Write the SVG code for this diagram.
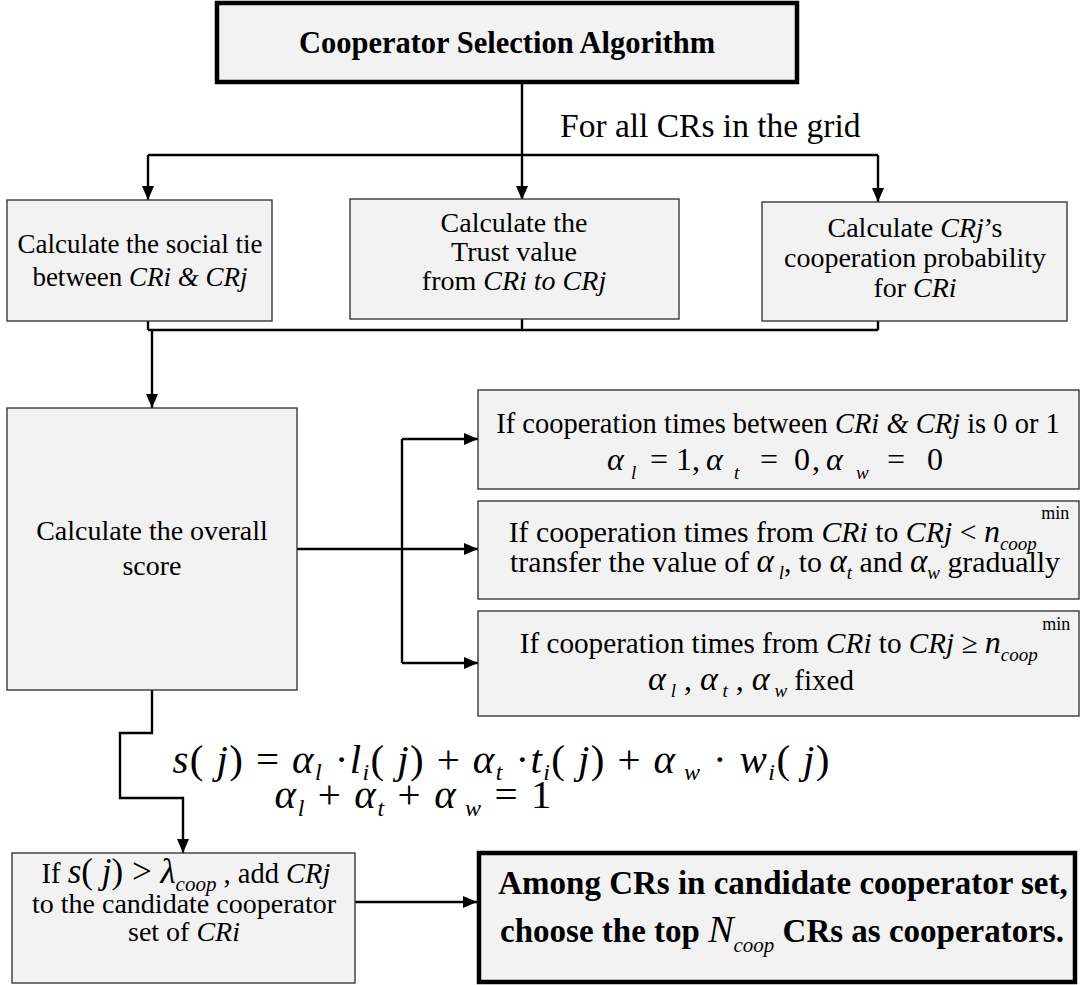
<svg xmlns="http://www.w3.org/2000/svg" width="1081" height="985" viewBox="0 0 1081 985" font-family="'Liberation Serif', 'Times New Roman', 'DejaVu Serif', serif">
<defs>
<marker id="arrow" viewBox="0 0 14 12" refX="14" refY="6" markerWidth="14" markerHeight="12" markerUnits="userSpaceOnUse" orient="auto"><path d="M0,0 L14,6 L0,12 Z" fill="#000"/></marker>
<style>
text{font-family:'Liberation Serif','Times New Roman','DejaVu Serif',serif;font-size:28px;fill:#000}
.c{text-anchor:middle}
.i{font-style:italic}
.m{font-style:italic;font-size:32px}
.mu{font-size:32px}
.s{font-style:italic;font-size:19px}
.su{font-size:18px}
.bold{font-weight:bold;font-size:33px}
.f{font-size:41px}
.fs{font-style:italic;font-size:24px}
.box{fill:#f2f2f2;stroke:#3a3a3a;stroke-width:1.4}
.heavy{fill:#f2f2f2;stroke:#000;stroke-width:4.5}
.wire{fill:none;stroke:#000;stroke-width:2.4}
.wa{fill:none;stroke:#000;stroke-width:2.4;marker-end:url(#arrow)}
</style>
</defs>
<rect width="1081" height="985" fill="#fff"/>

<!-- connectors -->
<g id="connectors">
<path class="wa" d="M522,82 V200"/>
<path class="wire" d="M148,155 H878"/>
<path class="wa" d="M148,155 V200"/>
<path class="wa" d="M878,155 V202"/>
<text x="560" y="137" style="font-size:33.5px">For all CRs in the grid</text>
<path class="wire" d="M148,321 V330 M522,319 V330 M878,321 V330 M148,330 H878"/>
<path class="wa" d="M152,330 V408"/>
<path class="wire" d="M402,439 V663"/>
<path class="wa" d="M297,549 H478"/>
<path class="wa" d="M402,439 H478"/>
<path class="wa" d="M402,663 H478"/>
<path class="wa" d="M152,690 V733 H120 V798 H183 V853"/>
<path class="wa" d="M355,902 H477"/>
</g>

<g id="title">
<rect class="heavy" x="217" y="3" width="580" height="79"/>
<text class="bold c" x="507" y="53" style="font-size:30.5px">Cooperator Selection Algorithm</text>
</g>

<g id="social-tie">
<rect class="box" x="7" y="200" width="265" height="121"/>
<text class="c" x="140" y="253" style="font-size:27px">Calculate the social tie</text>
<text class="c" x="140" y="286" style="font-size:27px">between <tspan class="i">CRi &amp; CRj</tspan></text>
</g>

<g id="trust-value">
<rect class="box" x="350" y="199" width="329" height="120"/>
<text class="c" x="514" y="232">Calculate the</text>
<text class="c" x="514" y="261">Trust value</text>
<text class="c" x="514" y="290">from <tspan class="i">CRi to CRj</tspan></text>
</g>

<g id="coop-probability">
<rect class="box" x="762" y="202" width="305" height="119"/>
<text class="c" x="915" y="237">Calculate  <tspan class="i">CRj</tspan>’s</text>
<text class="c" x="915" y="267">cooperation probability</text>
<text class="c" x="915" y="297">for <tspan class="i">CRi</tspan></text>
</g>

<g id="overall-score">
<rect class="box" x="7" y="408" width="290" height="282"/>
<text class="c" x="152" y="540">Calculate the overall</text>
<text class="c" x="152" y="575">score</text>
</g>

<g id="rule-first">
<rect class="box" x="478" y="390" width="601" height="99"/>
<text class="c" x="778" y="433" style="font-size:28.5px">If cooperation times between <tspan class="i">CRi &amp; CRj</tspan> is 0 or 1</text>
<text y="470" class="mu">
<tspan class="m" x="607">α</tspan><tspan class="s" x="631" dy="9">l</tspan><tspan x="650" dy="-9">=</tspan><tspan x="676">1</tspan><tspan x="692">,</tspan>
<tspan class="m" x="706">α</tspan><tspan class="s" x="734" dy="9">t</tspan><tspan x="760" dy="-9">=</tspan><tspan x="794">0</tspan><tspan x="812">,</tspan>
<tspan class="m" x="826">α</tspan><tspan class="s" x="856" dy="9">w</tspan><tspan x="887" dy="-9">=</tspan><tspan x="927">0</tspan>
</text>
</g>

<g id="rule-transfer">
<rect class="box" x="478" y="501" width="601" height="98"/>
<text class="c" x="789" y="542" style="font-size:29.8px">If cooperation times from <tspan class="i">CRi</tspan> to <tspan class="i">CRj</tspan> &lt;  <tspan class="m">n</tspan><tspan class="s" dy="8">coop</tspan><tspan class="su" dy="-31"> min</tspan></text>
<text class="c" x="785" y="572" style="font-size:29.8px">transfer the value of <tspan class="m" style="font-size:33px">α</tspan><tspan class="s" dy="7"> l</tspan><tspan dy="-7">, to </tspan><tspan class="m" style="font-size:33px">α</tspan><tspan class="s" dy="7">t</tspan><tspan dy="-7"> and </tspan><tspan class="m" style="font-size:33px">α</tspan><tspan class="s" dy="7">w</tspan><tspan dy="-7"> gradually</tspan></text>
</g>

<g id="rule-fixed">
<rect class="box" x="478" y="611" width="601" height="105"/>
<text class="c" x="795" y="653" style="font-size:29.2px">If cooperation times from <tspan class="i">CRi</tspan> to <tspan class="i">CRj</tspan> ≥ <tspan class="m">n</tspan><tspan class="s" dy="8">coop</tspan><tspan class="su" dy="-31"> min</tspan></text>
<text class="c" x="751" y="690" style="font-size:29px"><tspan class="m" style="font-size:34px">α</tspan><tspan class="s" dy="7">  l</tspan><tspan class="mu" dy="-7"> , </tspan><tspan class="m" style="font-size:34px">α</tspan><tspan class="s" dy="7">  t</tspan><tspan class="mu" dy="-7"> , </tspan><tspan class="m" style="font-size:34px">α</tspan><tspan class="s" dy="7">  w</tspan><tspan dy="-7">  fixed</tspan></text>
</g>

<g id="score-formula">
<text class="f c" x="501" y="773" textLength="657" lengthAdjust="spacing"><tspan class="i">s</tspan>( <tspan class="i">j</tspan>) = <tspan class="i">α</tspan><tspan class="fs" dy="7">l</tspan><tspan dy="-7"> ·</tspan><tspan class="i">l</tspan><tspan class="fs" dy="7">i</tspan><tspan dy="-7">( </tspan><tspan class="i">j</tspan>) + <tspan class="i">α</tspan><tspan class="fs" dy="7">t</tspan><tspan dy="-7"> ·</tspan><tspan class="i">t</tspan><tspan class="fs" dy="7">i</tspan><tspan dy="-7">( </tspan><tspan class="i">j</tspan>) + <tspan class="i">α</tspan><tspan class="fs" dy="7"> w</tspan><tspan dy="-7"> · </tspan><tspan class="i">w</tspan><tspan class="fs" dy="7">i</tspan><tspan dy="-7">( </tspan><tspan class="i">j</tspan>)</text>
<text class="f c" x="413" y="808" textLength="277" lengthAdjust="spacing"><tspan class="i">α</tspan><tspan class="fs" dy="8">l</tspan><tspan dy="-8"> + </tspan><tspan class="i">α</tspan><tspan class="fs" dy="8">t</tspan><tspan dy="-8"> + </tspan><tspan class="i">α</tspan><tspan class="fs" dy="8"> w</tspan><tspan dy="-8"> = 1</tspan></text>
</g>

<g id="candidate-set">
<rect class="box" x="12" y="853" width="343" height="130"/>
<text class="c" x="186" y="883" style="font-size:28.5px">If <tspan class="m" style="font-size:35px">s</tspan><tspan class="mu" style="font-size:35px">( </tspan><tspan class="m" style="font-size:35px">j</tspan><tspan class="mu" style="font-size:35px">) &gt; </tspan><tspan class="m" style="font-size:35px">λ</tspan><tspan class="s" style="font-size:21px" dy="8">coop</tspan><tspan dy="-8"> , add </tspan><tspan class="i">CRj</tspan></text>
<text class="c" x="184" y="913">to the candidate cooperator</text>
<text class="c" x="184" y="941">set of <tspan class="i">CRi</tspan></text>
</g>

<g id="top-cooperators">
<rect class="heavy" x="479" y="853" width="596" height="129"/>
<text class="bold c" x="783" y="894">Among CRs in candidate cooperator set,</text>
<text class="bold c" x="782" y="942">choose the top <tspan style="font-weight:normal;font-style:italic;font-size:38px">N</tspan><tspan style="font-weight:normal;font-style:italic;font-size:21px" dy="10">coop</tspan><tspan dy="-10"> CRs as cooperators.</tspan></text>
</g>
</svg>
